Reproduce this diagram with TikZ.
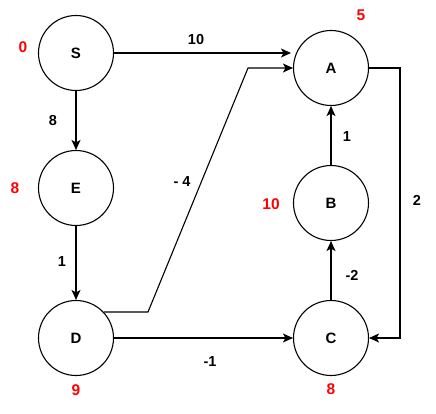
\documentclass[tikz,border=0pt]{standalone}
\usepackage{fontspec}
\setmainfont{Liberation Sans}
\usetikzlibrary{arrows.meta}
\definecolor{lblred}{RGB}{255,0,0}
\begin{document}
\begin{tikzpicture}[x=1pt,y=-1pt,
  vtx/.style={circle,draw,line width=1.1pt,minimum size=75pt,inner sep=0pt,font=\fontsize{15}{15}\selectfont\bfseries},
  wlbl/.style={font=\fontsize{14.5}{15}\selectfont\bfseries,inner sep=0pt},
  dlbl/.style={font=\fontsize{15.5}{16}\selectfont\bfseries,text=lblred,inner sep=0pt},
  edge/.style={line width=1.1pt,-{Stealth[length=10pt,width=9pt,inset=2.5pt]}}]
\useasboundingbox (0,0) rectangle (436,414);
\node[vtx] (S) at (76,53) {S};
\node[vtx] (E) at (76,188) {E};
\node[vtx] (D) at (76,338) {D};
\node[vtx] (A) at (331,68) {A};
\node[vtx] (B) at (331,203) {B};
\node[vtx] (C) at (331,338) {C};
% distance labels
\node[dlbl] (dS) at (23,47) {0};
\node[dlbl] (dE) at (15,188) {8};
\node[dlbl] (dD) at (76,390) {9};
\node[dlbl] (dC) at (331,389) {8};
\node[dlbl] (dA) at (361,15) {5};
\node[dlbl] (dB) at (271,204) {10};
% edges
\coordinate (sa) at (291,53);
\draw[edge] (S.east |- 0,53) -- (sa);
\node[wlbl] (w10) at (196,40) {10};
\draw[edge] (S) -- (E);
\node[wlbl] (w8) at (53,121) {8};
\draw[edge] (E) -- (D);
\node[wlbl] (w1a) at (62,262) {1};
\coordinate (da1) at (148,312);
\coordinate (da2) at (248,68);
\draw[edge] (D.east |- 0,312) ++(-10,0) -- (da1) -- (da2) -- (A.west);
\node[wlbl] (wm4) at (182,182) {- 4};
\draw[edge] (D) -- (C);
\node[wlbl] (wm1) at (210,362) {-1};
\draw[edge] (C) -- (B);
\node[wlbl] (wm2) at (352,275) {-2};
\draw[edge] (B) -- (A);
\node[wlbl] (w1b) at (347,137) {1};
\coordinate (ac1) at (400,68);
\coordinate (ac2) at (400,338);
\draw[edge] (A.east) -- (ac1) -- (ac2) -- (C.east);
\node[wlbl] (w2) at (417,200) {2};
\end{tikzpicture}
\end{document}
